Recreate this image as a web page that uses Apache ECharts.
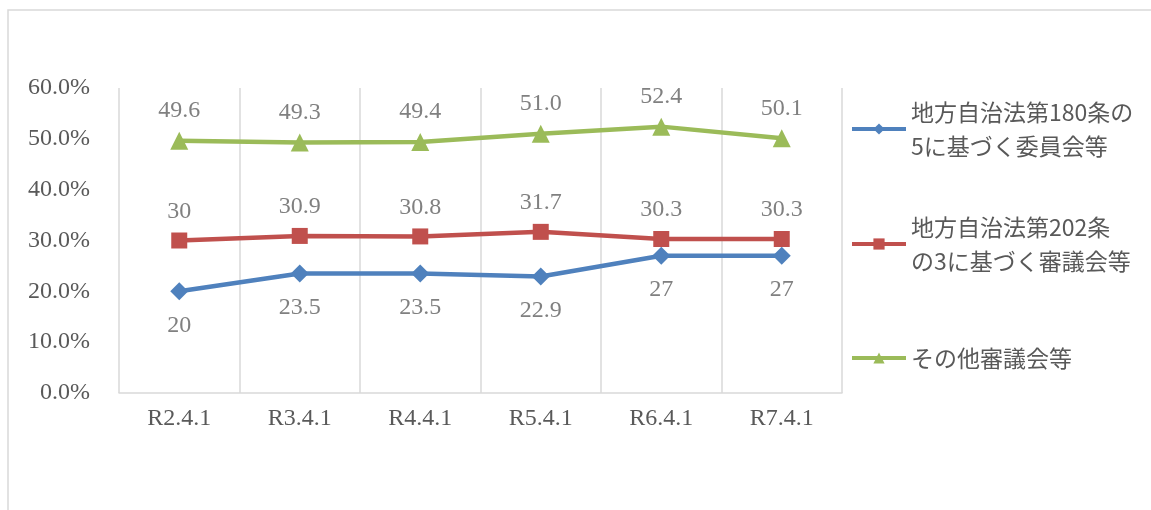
<!DOCTYPE html>
<html>
<head>
<meta charset="utf-8">
<script src="https://cdn.jsdelivr.net/npm/echarts@6/dist/echarts.min.js"></script>
<style>
html,body{margin:0;padding:0;background:#fff;}
#c{width:1151px;height:510px;}
</style>
</head>
<body>
<div id="c"></div>
<script>
var categories = ['R2.4.1', 'R3.4.1', 'R4.4.1', 'R5.4.1', 'R6.4.1', 'R7.4.1'];
var seriesNames = ['地方自治法第180条の\n5に基づく委員会等', '地方自治法第202条\nの3に基づく審議会等', 'その他審議会等'];
var values180 = [20, 23.5, 23.5, 22.9, 27, 27];
var values202 = [30, 30.9, 30.8, 31.7, 30.3, 30.3];
var valuesOther = [49.6, 49.3, 49.4, 51.0, 52.4, 50.1];
var labels180 = ['20', '23.5', '23.5', '22.9', '27', '27'];
var labels202 = ['30', '30.9', '30.8', '31.7', '30.3', '30.3'];
var labelsOther = ['49.6', '49.3', '49.4', '51.0', '52.4', '50.1'];
var yTicks = [0, 10, 20, 30, 40, 50, 60];

var serifFont = '"Liberation Serif", "DejaVu Serif", serif';
var cjkFont = '"Noto Sans CJK JP", "Noto Sans", sans-serif';

function mkData(vals, labs) {
  return vals.map(function (v, i) { return { value: v, labelText: labs[i] }; });
}
function labelFmt(p) { return p.data.labelText; }

var chart = echarts.init(document.getElementById('c'), null, { renderer: 'canvas' });

var legendBase = {
  orient: 'vertical',
  left: 850,
  padding: 0,
  itemWidth: 54,
  itemHeight: 14,
  itemGap: 0,
  selectedMode: false,
  lineStyle: { width: 4 },
  textStyle: { fontFamily: cjkFont, fontSize: 23, color: '#595959', lineHeight: 34 }
};

var option = {
  backgroundColor: '#ffffff',
  animation: false,
  graphic: [{
    type: 'rect',
    shape: { x: 8, y: 10, width: 1300, height: 700 },
    style: { fill: 'none', stroke: '#d9d9d9', lineWidth: 1.5 },
    silent: true
  }],
  grid: { left: 119, right: 309, top: 88, bottom: 117, containLabel: false },
  legend: [
    Object.assign({}, legendBase, { top: 79, data: [{ name: seriesNames[0], textStyle: { padding: [32, 0, 0, 0] } }] }),
    Object.assign({}, legendBase, { top: 194, data: [{ name: seriesNames[1], textStyle: { padding: [32, 0, 0, 0] } }] }),
    Object.assign({}, legendBase, { top: 341, data: [{ name: seriesNames[2] }] })
  ],
  xAxis: {
    type: 'category',
    data: categories,
    boundaryGap: true,
    axisLine: { show: true, lineStyle: { color: '#d9d9d9', width: 1.5 } },
    axisTick: { show: false },
    splitLine: { show: true, lineStyle: { color: '#d9d9d9', width: 1.5 } },
    axisLabel: { color: '#595959', fontFamily: serifFont, fontSize: 24, margin: 14 }
  },
  yAxis: {
    type: 'value',
    min: 0,
    max: 60,
    interval: 10,
    axisLine: { show: false },
    axisTick: { show: false },
    splitLine: { show: false },
    axisLabel: {
      color: '#595959', fontFamily: serifFont, fontSize: 24, margin: 29,
      formatter: function (v) { return yTicks.indexOf(v) >= 0 ? v.toFixed(1) + '%' : ''; }
    }
  },
  series: [
    {
      name: seriesNames[0], type: 'line', data: mkData(values180, labels180),
      symbol: 'diamond', symbolSize: 18,
      lineStyle: { color: '#4f81bd', width: 4.5 },
      itemStyle: { color: '#4f81bd' },
      label: { show: true, position: 'bottom', distance: 13, formatter: labelFmt,
        color: '#808080', fontFamily: serifFont, fontSize: 24 }
    },
    {
      name: seriesNames[1], type: 'line', data: mkData(values202, labels202),
      symbol: 'rect', symbolSize: 16,
      lineStyle: { color: '#c0504d', width: 4.5 },
      itemStyle: { color: '#c0504d' },
      label: { show: true, position: 'top', distance: 9, formatter: labelFmt,
        color: '#808080', fontFamily: serifFont, fontSize: 24 }
    },
    {
      name: seriesNames[2], type: 'line', data: mkData(valuesOther, labelsOther),
      symbol: 'triangle', symbolSize: 18,
      lineStyle: { color: '#9bbb59', width: 4.5 },
      itemStyle: { color: '#9bbb59' },
      label: { show: true, position: 'top', distance: 9, formatter: labelFmt,
        color: '#808080', fontFamily: serifFont, fontSize: 24 }
    }
  ]
};
chart.setOption(option);
</script>
</body>
</html>
